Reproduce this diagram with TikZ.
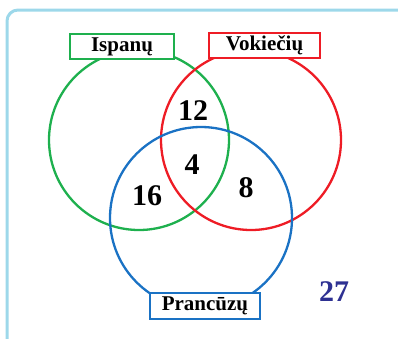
\documentclass[tikz,border=0pt]{standalone}
\usepackage{fontspec}
\setmainfont{Liberation Serif}
\definecolor{frameblue}{HTML}{9DD8EA}
\definecolor{vgreen}{HTML}{1EB04E}
\definecolor{vred}{HTML}{EE1C25}
\definecolor{vblue}{HTML}{1A72C4}
\definecolor{numblue}{HTML}{2E3192}
\begin{document}
\begin{tikzpicture}[x=1pt,y=-1pt,
  setcircle/.style={circle, draw, line width=2.3pt, minimum size=180pt, inner sep=0pt},
  setlabel/.style={draw, fill=white, line width=1.8pt, inner sep=0pt, minimum height=25pt,
    font=\fontsize{21}{21}\selectfont\bfseries},
  count/.style={font=\fontsize{30}{30}\selectfont\bfseries, inner sep=0pt}]
\useasboundingbox (0,0) rectangle (398,338);
\begin{scope}
  \clip (0,0) rectangle (398,338);
  \draw[frameblue, line width=3pt, rounded corners=11pt] (7,10) rectangle (430,370);
\end{scope}
\node[setcircle, draw=vgreen] (isp) at (139,140) {};
\node[setcircle, draw=vred] (vok) at (251,140) {};
\node[setcircle, draw=vblue, minimum size=182pt] (pra) at (201,218) {};
\node[setlabel, draw=vgreen, minimum width=104pt] (lisp) at (122,46.5) {Ispanų};
\node[setlabel, draw=vred, minimum width=111pt] (lvok) at (264.5,45.5) {Vokiečių};
\node[setlabel, draw=vblue, minimum width=110pt, minimum height=26pt] (lpra) at (205,306) {Prancūzų};
\node[count] (n12) at (193,111) {12};
\node[count] (n4) at (192,165) {4};
\node[count] (n16) at (147,196) {16};
\node[count] (n8) at (246,188) {8};
\node[count, text=numblue] (n27) at (334,291.5) {27};
\end{tikzpicture}
\end{document}
